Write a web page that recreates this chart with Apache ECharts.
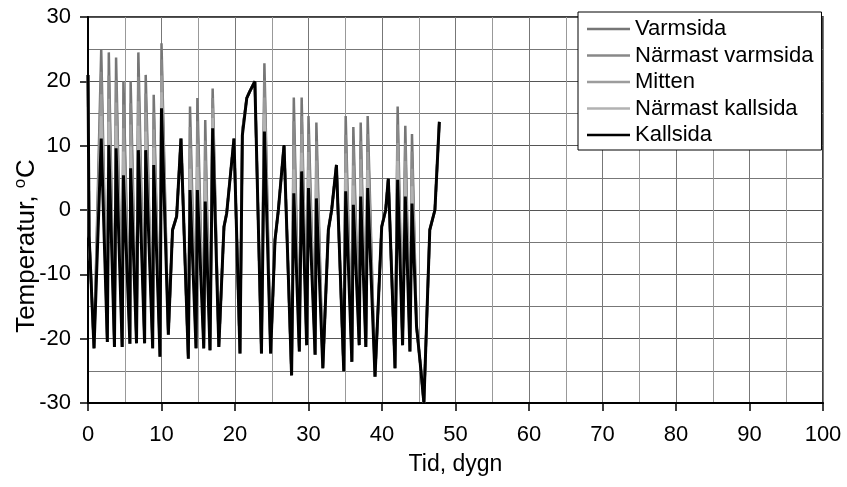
<!DOCTYPE html>
<html>
<head>
<meta charset="utf-8">
<script src="https://cdn.jsdelivr.net/npm/echarts@6/dist/echarts.min.js"></script>
<style>
html,body{margin:0;padding:0;background:#fff;}
#chart{width:847px;height:487px;}
</style>
</head>
<body>
<div id="chart"></div>
<script>
// Time (days)
var tid = [0, 0.15, 0.82, 1.8, 2.63, 2.83, 3.6, 3.82, 4.65, 4.82, 5.7, 5.8, 6.6, 6.85, 7.7, 7.85, 8.8, 8.94, 9.8, 10.0,
  10.93, 11.5, 12.06, 12.65, 13.65, 13.88, 14.7, 14.88, 15.75, 15.95, 16.6, 16.96, 17.8, 18.5, 18.87, 19.86, 20.68, 21.0, 21.6, 22.0,
  22.7, 23.6, 24.0, 24.85, 25.44, 25.9, 26.67, 27.7, 28.0, 28.75, 29.07, 29.75, 30.0, 30.9, 31.07, 31.95, 32.7, 33.15, 33.8, 34.8,
  35.06, 35.9, 36.1, 36.9, 37.1, 37.8, 38.05, 39.05, 39.96, 40.5, 40.86, 41.77, 42.13, 42.8, 43.17, 43.8, 44.08, 44.7, 45.2, 45.7,
  46.5, 47.2, 47.8];

var varmsida = [21, -4, -21.5, 24.9, -20.5, 24.5, -21.3, 23.7, -21.3, 20.0, -20.8, 20.0, -20.7, 24.5, -20.7, 21.0, -21.5, 17.9, -22.8, 25.9,
  -19.4, -3.1, -1.0, 11.1, -23.1, 16.1, -21.5, 17.4, -21.5, 14.0, -21.8, 18.9, -21.3, -2.6, -0.5, 11.1, -22.3, 12.4, 17.4, 18.4,
  20.0, -22.3, 22.8, -22.3, -4.7, 0, 10.1, -25.7, 17.5, -22.0, 17.5, -21.0, 14.6, -22.5, 13.6, -24.6, -3.1, 0, 7.0, -25.1,
  14.6, -23.6, 12.9, -21.0, 13.6, -21.3, 14.6, -25.9, -2.6, 0, 4.9, -24.6, 16.1, -21.0, 13.1, -22.0, 11.8, -18.1, -23.8, -30,
  -3.1, 0, 13.7];

var narmastVarmsida = [21, -4, -21.5, 21.5, -20.5, 20.9, -21.3, 20.2, -21.3, 16.4, -20.8, 16.6, -20.7, 20.7, -20.7, 18.1, -21.5, 15.2, -22.8, 23.4,
  -19.4, -3.1, -1.0, 11.1, -23.1, 12.9, -21.5, 13.8, -21.5, 10.8, -21.8, 17.4, -21.3, -2.6, -0.5, 11.1, -22.3, 12.2, 17.4, 18.4,
  20.0, -22.3, 20.2, -22.3, -4.7, 0, 10.1, -25.7, 13.8, -22.0, 14.6, -21.0, 11.8, -22.5, 10.7, -24.6, -3.1, 0, 7.0, -25.1,
  11.7, -23.6, 9.9, -21.0, 10.7, -21.3, 11.8, -25.9, -2.6, 0, 4.9, -24.6, 13.3, -21.0, 10.4, -22.0, 9.1, -18.1, -23.8, -30,
  -3.1, 0, 13.7];

var mitten = [21, -4, -21.5, 18.0, -20.5, 17.3, -21.3, 16.7, -21.3, 12.7, -20.8, 13.3, -20.7, 16.9, -20.7, 15.2, -21.5, 12.5, -22.8, 20.9,
  -19.4, -3.1, -1.0, 11.1, -23.1, 9.6, -21.5, 10.3, -21.5, 7.7, -21.8, 15.8, -21.3, -2.6, -0.5, 11.1, -22.3, 12.0, 17.4, 18.4,
  20.0, -22.3, 17.5, -22.3, -4.7, 0, 10.1, -25.7, 10.1, -22.0, 11.8, -21.0, 9.0, -22.5, 7.7, -24.6, -3.1, 0, 7.0, -25.1,
  8.8, -23.6, 6.9, -21.0, 7.9, -21.3, 9.0, -25.9, -2.6, 0, 4.9, -24.6, 10.4, -21.0, 7.6, -22.0, 6.4, -18.1, -23.8, -30,
  -3.1, 0, 13.7];

var narmastKallsida = [21, -4, -21.5, 14.6, -20.5, 13.7, -21.3, 13.1, -21.3, 9.1, -20.8, 9.9, -20.7, 13.1, -20.7, 12.2, -21.5, 9.7, -22.8, 18.3,
  -19.4, -3.1, -1.0, 11.1, -23.1, 6.4, -21.5, 6.7, -21.5, 4.5, -21.8, 14.3, -21.3, -2.6, -0.5, 11.1, -22.3, 11.8, 17.4, 18.4,
  20.0, -22.3, 14.9, -22.3, -4.7, 0, 10.1, -25.7, 6.3, -22.0, 8.9, -21.0, 6.2, -22.5, 4.8, -24.6, -3.1, 0, 7.0, -25.1,
  5.8, -23.6, 3.8, -21.0, 5.0, -21.3, 6.2, -25.9, -2.6, 0, 4.9, -24.6, 7.6, -21.0, 4.9, -22.0, 3.7, -18.1, -23.8, -30,
  -3.1, 0, 13.7];

var kallsida = [21, -4, -21.5, 11.1, -20.5, 10.1, -21.3, 9.6, -21.3, 5.4, -20.8, 6.5, -20.7, 9.3, -20.7, 9.3, -21.5, 7.0, -22.8, 15.8,
  -19.4, -3.1, -1.0, 11.1, -23.1, 3.1, -21.5, 3.1, -21.5, 1.3, -21.8, 12.7, -21.3, -2.6, -0.5, 11.1, -22.3, 11.6, 17.4, 18.4,
  20.0, -22.3, 12.2, -22.3, -4.7, 0, 10.1, -25.7, 2.6, -22.0, 6.0, -21.0, 3.4, -22.5, 1.8, -24.6, -3.1, 0, 7.0, -25.1,
  2.9, -23.6, 0.8, -21.0, 2.1, -21.3, 3.4, -25.9, -2.6, 0, 4.9, -24.6, 4.7, -21.0, 2.1, -22.0, 1.0, -18.1, -23.8, -30,
  -3.1, 0, 13.7];

var seriesNames = ['Varmsida', 'Närmast varmsida', 'Mitten', 'Närmast kallsida', 'Kallsida'];
var seriesValues = [varmsida, narmastVarmsida, mitten, narmastKallsida, kallsida];
var seriesColors = ['#767676', '#888888', '#9c9c9c', '#b2b2b2', '#000000'];

var xTitle = 'Tid, dygn';
var yTitle = 'Temperatur, {sup|o}C';

function pairs(vals) {
  return tid.map(function (t, i) { return [t, vals[i]]; });
}

var FONT = '"Liberation Sans", Arial, sans-serif';

var chart = echarts.init(document.getElementById('chart'), null, {renderer: 'canvas'});
chart.setOption({
  animation: false,
  backgroundColor: '#ffffff',
  textStyle: {fontFamily: FONT, color: '#000'},
  grid: {left: 88, right: 24, top: 17, bottom: 84, containLabel: false, outerBoundsMode: 'none',
    show: true, borderColor: '#000', borderWidth: 1.5, backgroundColor: 'transparent'},
  graphic: [{
    type: 'text',
    x: 27, y: 246,
    rotation: Math.PI / 2,
    silent: true,
    style: {
      text: yTitle,
      fontFamily: FONT, fontSize: 26, fill: '#000',
      align: 'center', verticalAlign: 'middle',
      rich: {sup: {fontFamily: FONT, fontSize: 17, fill: '#000', padding: [0, 1, 14, 0]}}
    }
  }],
  legend: {
    orient: 'vertical',
    left: 578, top: 12,
    padding: [6, 8, 4, 9],
    itemGap: 4.5,
    icon: 'rect',
    itemWidth: 43, itemHeight: 2.5,
    backgroundColor: '#fff',
    borderColor: '#000', borderWidth: 1,
    borderRadius: 0,
    textStyle: {fontFamily: FONT, fontSize: 22, color: '#000', lineHeight: 21},
    data: seriesNames
  },
  xAxis: {
    type: 'value', min: 0, max: 100, interval: 10,
    name: xTitle, nameLocation: 'middle', nameGap: 50,
    nameTextStyle: {fontFamily: FONT, fontSize: 23, color: '#000'},
    axisLine: {show: true, onZero: false, lineStyle: {color: '#000', width: 2}},
    axisTick: {show: true, length: 8, lineStyle: {color: '#000', width: 1.5}},
    axisLabel: {fontFamily: FONT, fontSize: 22, color: '#000', margin: 21},
    splitLine: {show: true, lineStyle: {color: '#777', width: 1}},
    minorTick: {show: false, splitNumber: 2},
    minorSplitLine: {show: true, lineStyle: {color: '#999', width: 1}}
  },
  yAxis: {
    type: 'value', min: -30, max: 30, interval: 10,
    axisLine: {show: true, onZero: false, lineStyle: {color: '#000', width: 2}},
    axisTick: {show: true, length: 8, lineStyle: {color: '#000', width: 1.5}},
    axisLabel: {fontFamily: FONT, fontSize: 22, color: '#000', margin: 17},
    splitLine: {show: true, lineStyle: {color: '#555', width: 1}},
    minorTick: {show: false, splitNumber: 2},
    minorSplitLine: {show: true, lineStyle: {color: '#777', width: 1}}
  },
  series: seriesNames.map(function (name, i) {
    return {
      name: name,
      type: 'line',
      data: pairs(seriesValues[i]),
      symbol: 'none',
      showSymbol: false,
      color: seriesColors[i],
      lineStyle: {color: seriesColors[i], width: i === 4 ? 3 : 2.5},
      z: 2 + i
    };
  })
});
</script>
</body>
</html>
